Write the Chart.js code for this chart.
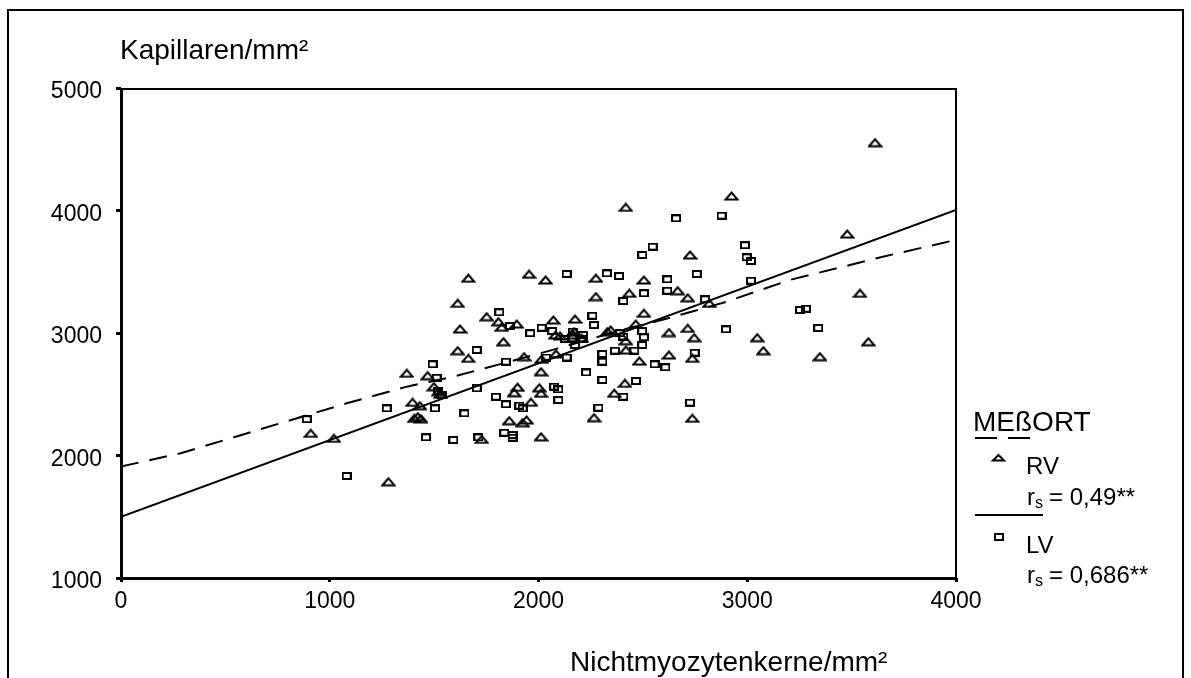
<!DOCTYPE html>
<html>
<head>
<meta charset="utf-8">
<script src="https://cdn.jsdelivr.net/npm/chart.js@4.4.1/dist/chart.umd.min.js"></script>
<style>
  html, body { margin: 0; padding: 0; background: #fff; }
  #wrap { width: 1191px; height: 678px; }
</style>
</head>
<body>
<div id="wrap"><canvas id="chart" width="1191" height="678"></canvas></div>
<script>
// RV (triangles)
const rvX = [1664, 1955, 1613, 1752, 1808, 1824, 1896, 1624, 1832, 1613, 1664, 1931, 1369, 1469, 1499, 1522, 1530, 1884, 1900, 1860, 1924, 1943, 1397, 1432, 1405, 1422, 1437, 909, 1020, 1728, 1281,
  2726, 2034, 2275, 2505, 2275, 2435, 2667, 2715, 2818, 2505, 2071, 2175, 2466, 2082, 2103, 2170, 2207, 2330, 2346, 2418, 2625, 2715, 2746, 3048, 3077, 2419, 2483, 2625, 2737, 2015, 2084, 2012, 2414, 2363, 2004, 2012, 1964, 2012, 2266, 2737, 2167,
  3612, 2925, 3479, 3540, 3580, 3348, 2418];
const rvY = [3447, 3480, 3242, 3133, 3092, 3047, 3073, 3033, 2929, 2856, 2793, 2807, 2671, 2652, 2562, 2521, 2500, 2513, 2557, 2284, 2268, 2290, 2434, 2407, 2303, 2317, 2300, 2181, 2140, 2132, 1786,
  3637, 3433, 3447, 3433, 3297, 3324, 3345, 3288, 3242, 3161, 3106, 3114, 3073, 2984, 2976, 3011, 2957, 3011, 3024, 2937, 3004, 3038, 2962, 2962, 2856, 2861, 2771, 2820, 2793, 2786, 2829, 2684, 2589, 2508, 2553, 2508, 2435, 2153, 2309, 2304, 2984,
  4554, 4118, 3808, 3324, 2929, 2807, 4026];

// LV (squares)
const lvX = [1812, 1863, 1960, 1704, 1844, 1493, 1512, 1518, 1536, 1704, 1796, 1844, 1908, 1924, 1273, 1504, 1645, 890, 1461, 1592, 1712, 1836, 1876, 1876, 1081,
  2497, 2997, 3018, 2135, 2327, 2386, 2617, 2758, 3018, 2505, 2617, 2406, 2798, 2258, 2266, 2015, 2066, 2127, 2160, 2165, 2213, 2213, 2175, 2390, 2406, 2497, 2505, 2497, 2898, 2366, 2459, 2748, 2306, 2306, 2135, 2036, 2228, 2556, 2608, 2306, 2467, 2406, 2075, 2095, 2095, 2287, 2726,
  2877, 2989, 3253, 3281, 3340, 2659, 2547];
const lvY = [3169, 3057, 2998, 2861, 2766, 2744, 2635, 2525, 2494, 2548, 2480, 2418, 2407, 2385, 2385, 2385, 2344, 2296, 2148, 2127, 2148, 2186, 2167, 2145, 1833,
  3637, 3618, 3588, 3482, 3487, 3465, 3438, 3482, 3427, 3324, 3345, 3261, 3275, 3141, 3065, 3043, 3016, 2951, 2957, 3011, 2984, 2951, 2902, 2998, 2970, 3016, 2965, 2902, 3030, 2856, 2856, 2839, 2829, 2766, 2800, 2800, 2678, 2744, 2720, 2616, 2608, 2480, 2562, 2540, 2453, 2390, 2432,
  3958, 3716, 3188, 3198, 3041, 3936, 3705];

// fit lines
const fitSolidX = [0, 4000];
const fitSolidY = [1500, 4005];
const fitDashedX = [0, 290, 762, 1081, 1369, 1592, 1832, 2095, 2400, 2598, 2750, 2900, 3204, 3492, 3650, 4000];
const fitDashedY = [1910, 2020, 2263, 2426, 2562, 2643, 2753, 2875, 3025, 3110, 3182, 3255, 3433, 3555, 3623, 3760];

const xTickValues = [0, 1000, 2000, 3000, 4000];
const yTickValues = [1000, 2000, 3000, 4000, 5000];

const xTitle = 'Nichtmyozytenkerne/mm²';
const yTitle = 'Kapillaren/mm²';
const legendTitle = 'MEßORT';
const seriesNames = ['RV', 'LV'];
const corrValues = ['0,49**', '0,686**'];

const FONT = '"Liberation Sans", Arial, sans-serif';

function zip(xs, ys) {
  return xs.map((x, i) => ({ x: x, y: ys[i] }));
}

// marker images
function makeTriangle() {
  const c = document.createElement('canvas');
  c.width = 15; c.height = 10;
  const ctx = c.getContext('2d');
  ctx.lineWidth = 2;
  ctx.strokeStyle = '#000';
  ctx.beginPath();
  ctx.moveTo(1.5, 8.5);
  ctx.lineTo(7.5, 1.5);
  ctx.lineTo(13.5, 8.5);
  ctx.closePath();
  ctx.stroke();
  return c;
}

function makeSquare() {
  const c = document.createElement('canvas');
  c.width = 10; c.height = 8;
  const ctx = c.getContext('2d');
  ctx.lineWidth = 2;
  ctx.strokeStyle = '#000';
  ctx.strokeRect(1, 1, 8, 6);
  return c;
}

// frame, axis titles and legend
const decoPlugin = {
  id: 'deco',
  afterDraw(chart) {
    const ctx = chart.ctx;
    const a = chart.chartArea;
    ctx.save();
    ctx.strokeStyle = '#000';
    ctx.fillStyle = '#000';

    // outer frame
    ctx.lineWidth = 2;
    ctx.beginPath();
    ctx.moveTo(8, 690);
    ctx.lineTo(8, 10);
    ctx.lineTo(1183, 10);
    ctx.lineTo(1183, 690);
    ctx.stroke();

    // plot box
    ctx.lineWidth = 2;
    ctx.beginPath();
    ctx.moveTo(a.left, a.top + 1);
    ctx.lineTo(a.right, a.top + 1);
    ctx.lineTo(a.right, a.bottom);
    ctx.stroke();
    ctx.lineWidth = 3;
    ctx.beginPath();
    ctx.moveTo(a.left + 0.5, a.top);
    ctx.lineTo(a.left + 0.5, a.bottom + 0.5);
    ctx.lineTo(a.right, a.bottom + 0.5);
    ctx.stroke();

    // axis titles
    ctx.font = '28px ' + FONT;
    ctx.textBaseline = 'alphabetic';
    ctx.textAlign = 'left';
    ctx.fillText(yTitle, 120, 59);
    ctx.fillText(xTitle, 570, 671);

    // legend
    ctx.fillText(legendTitle, 973, 431);
    ctx.lineWidth = 2;
    ctx.beginPath();
    ctx.moveTo(975, 438); ctx.lineTo(997, 438);
    ctx.moveTo(1008, 438); ctx.lineTo(1030, 438);
    ctx.moveTo(975, 515); ctx.lineTo(1043, 515);
    ctx.stroke();

    // legend markers
    ctx.beginPath();
    ctx.moveTo(993, 460.5);
    ctx.lineTo(998.5, 455);
    ctx.lineTo(1004, 460.5);
    ctx.closePath();
    ctx.stroke();
    ctx.strokeRect(995, 534, 8, 6);

    const rows = [[474, 505], [553, 583]];
    rows.forEach((r, i) => {
      ctx.font = '24px ' + FONT;
      ctx.fillText(seriesNames[i], 1026, r[0]);
      ctx.fillText('r', 1027, r[1]);
      let x = 1027 + ctx.measureText('r').width;
      ctx.font = '16px ' + FONT;
      ctx.fillText('s', x, r[1] + 3);
      x += ctx.measureText('s').width + 6;
      ctx.font = '24px ' + FONT;
      ctx.fillText('= ' + corrValues[i], x, r[1]);
    });
    ctx.restore();
  }
};

const triImg = makeTriangle();
const sqImg = makeSquare();

new Chart(document.getElementById('chart'), {
  type: 'scatter',
  data: {
    datasets: [
      {
        label: seriesNames[0],
        data: zip(rvX, rvY),
        pointStyle: triImg,
        pointRadius: 6,
        borderColor: '#000',
        backgroundColor: 'transparent'
      },
      {
        label: seriesNames[1],
        data: zip(lvX, lvY),
        pointStyle: sqImg,
        pointRadius: 6,
        borderColor: '#000',
        backgroundColor: 'transparent'
      },
      {
        label: 'fit solid',
        data: zip(fitSolidX, fitSolidY),
        showLine: true,
        pointRadius: 0,
        borderColor: '#000',
        borderWidth: 2,
        tension: 0
      },
      {
        label: 'fit dashed',
        data: zip(fitDashedX, fitDashedY),
        showLine: true,
        pointRadius: 0,
        borderColor: '#000',
        borderWidth: 2,
        borderDash: [18, 11],
        tension: 0
      }
    ]
  },
  options: {
    responsive: false,
    animation: false,
    devicePixelRatio: 1,
    layout: { padding: { top: 88, right: 235, left: 0, bottom: 0 } },
    plugins: {
      legend: { display: false },
      tooltip: { enabled: false }
    },
    scales: {
      x: {
        type: 'linear',
        min: 0,
        max: 4000,
        afterFit: s => { s.height = 100; },
        afterBuildTicks: s => { s.ticks = xTickValues.map(v => ({ value: v })); },
        grid: { display: true, drawOnChartArea: false, drawTicks: true, tickLength: 4, lineWidth: 3, color: '#000' },
        border: { display: false },
        ticks: { color: '#000', font: { family: FONT, size: 23 }, padding: 6, maxRotation: 0, callback: v => String(v) }
      },
      y: {
        type: 'linear',
        min: 1000,
        max: 5000,
        afterFit: s => { s.width = 121; },
        afterBuildTicks: s => { s.ticks = yTickValues.map(v => ({ value: v })); },
        grid: { display: true, drawOnChartArea: false, drawTicks: true, tickLength: 5, lineWidth: 3, color: '#000' },
        border: { display: false },
        ticks: { color: '#000', font: { family: FONT, size: 23 }, padding: 14, labelOffset: 4, callback: v => String(v) }
      }
    }
  },
  plugins: [decoPlugin]
});
</script>
</body>
</html>
